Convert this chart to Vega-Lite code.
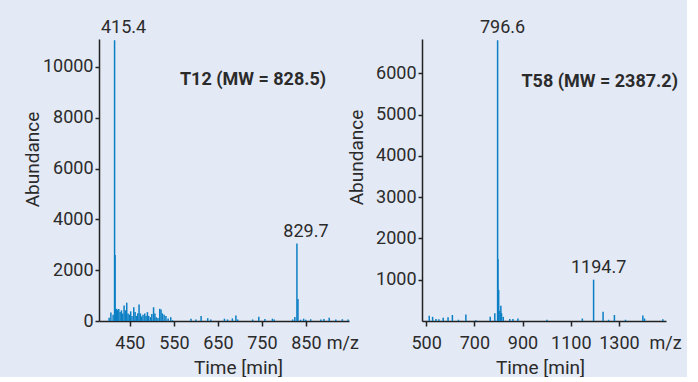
{
  "$schema": "https://vega.github.io/schema/vega-lite/v6.json",
  "background": "#e3e9f5",
  "padding": {"left": 23, "top": 19, "right": 5, "bottom": 0},
  "bounds": "flush",
  "spacing": 73,
  "config": {
    "font": "Roboto",
    "view": {"stroke": null},
    "axis": {
      "grid": false,
      "domainColor": "#222222",
      "domainWidth": 1.5,
      "tickColor": "#222222",
      "tickWidth": 1.5,
      "tickSize": 4,
      "labelColor": "#2b2b2b",
      "titleColor": "#2b2b2b",
      "labelFont": "Roboto",
      "titleFont": "Roboto",
      "labelFontSize": 18,
      "titleFontSize": 19,
      "titleFontWeight": "normal",
      "labelFlush": false,
      "format": "d"
    },
    "text": {"font": "Roboto", "color": "#2b2b2b"}
  },
  "datasets": {
    "left": [
      {"mz": 403, "ab": 130}, {"mz": 407, "ab": 330}, {"mz": 412, "ab": 250},
      {"mz": 415.4, "ab": 11050}, {"mz": 416.5, "ab": 2600}, {"mz": 418, "ab": 450},
      {"mz": 420, "ab": 480}, {"mz": 422, "ab": 430}, {"mz": 425, "ab": 470},
      {"mz": 428, "ab": 350}, {"mz": 431, "ab": 420}, {"mz": 434, "ab": 300},
      {"mz": 437, "ab": 610}, {"mz": 440, "ab": 420}, {"mz": 443, "ab": 720},
      {"mz": 446, "ab": 300}, {"mz": 449, "ab": 250}, {"mz": 452, "ab": 380},
      {"mz": 455, "ab": 200}, {"mz": 459, "ab": 540}, {"mz": 462, "ab": 350},
      {"mz": 465, "ab": 200}, {"mz": 468, "ab": 300}, {"mz": 471, "ab": 650},
      {"mz": 474, "ab": 300}, {"mz": 477, "ab": 180}, {"mz": 480, "ab": 250},
      {"mz": 484, "ab": 300}, {"mz": 487, "ab": 200}, {"mz": 490, "ab": 350},
      {"mz": 493, "ab": 200}, {"mz": 497, "ab": 150}, {"mz": 500, "ab": 280},
      {"mz": 504, "ab": 540}, {"mz": 507, "ab": 300}, {"mz": 510, "ab": 150},
      {"mz": 514, "ab": 120}, {"mz": 518, "ab": 480}, {"mz": 521, "ab": 450},
      {"mz": 524, "ab": 300}, {"mz": 528, "ab": 250}, {"mz": 532, "ab": 200},
      {"mz": 537, "ab": 100}, {"mz": 543, "ab": 150}, {"mz": 547, "ab": 30},
      {"mz": 589, "ab": 90}, {"mz": 600, "ab": 60}, {"mz": 612, "ab": 200},
      {"mz": 627, "ab": 110}, {"mz": 634, "ab": 60}, {"mz": 665, "ab": 90},
      {"mz": 672, "ab": 60}, {"mz": 683, "ab": 100}, {"mz": 691, "ab": 220},
      {"mz": 695, "ab": 60}, {"mz": 729, "ab": 60}, {"mz": 743, "ab": 170},
      {"mz": 757, "ab": 80}, {"mz": 774, "ab": 90}, {"mz": 778, "ab": 60},
      {"mz": 820, "ab": 60}, {"mz": 825, "ab": 160}, {"mz": 829.7, "ab": 3050},
      {"mz": 832, "ab": 870}, {"mz": 838, "ab": 50}, {"mz": 845, "ab": 90},
      {"mz": 850, "ab": 50}, {"mz": 861, "ab": 70}, {"mz": 884, "ab": 60},
      {"mz": 891, "ab": 80}, {"mz": 903, "ab": 130}, {"mz": 918, "ab": 60},
      {"mz": 933, "ab": 70}, {"mz": 946, "ab": 60}
    ],
    "leftLabels": [
      {"mz": 415.4, "ab": 11050, "label": "415.4"},
      {"mz": 829.7, "ab": 3050, "label": "829.7"}
    ],
    "right": [
      {"mz": 513, "ab": 130}, {"mz": 527, "ab": 100}, {"mz": 541, "ab": 50},
      {"mz": 553, "ab": 40}, {"mz": 571, "ab": 80}, {"mz": 591, "ab": 90},
      {"mz": 609, "ab": 145}, {"mz": 634, "ab": 30}, {"mz": 665, "ab": 160},
      {"mz": 706, "ab": 20}, {"mz": 766, "ab": 100}, {"mz": 785, "ab": 185},
      {"mz": 796.6, "ab": 6800}, {"mz": 798, "ab": 1500}, {"mz": 801, "ab": 750},
      {"mz": 806, "ab": 250}, {"mz": 810, "ab": 370}, {"mz": 813, "ab": 190},
      {"mz": 820, "ab": 100}, {"mz": 847, "ab": 50}, {"mz": 860, "ab": 50},
      {"mz": 881, "ab": 60}, {"mz": 1001, "ab": 30}, {"mz": 1148, "ab": 60},
      {"mz": 1194.7, "ab": 1000}, {"mz": 1234, "ab": 225}, {"mz": 1257, "ab": 30},
      {"mz": 1281, "ab": 145}, {"mz": 1327, "ab": 30}, {"mz": 1399, "ab": 135},
      {"mz": 1406, "ab": 60}, {"mz": 1482, "ab": 40}
    ],
    "rightLabels": [
      {"mz": 796.6, "ab": 6800, "label": "796.6"},
      {"mz": 1194.7, "ab": 1000, "label": "1194.7"}
    ]
  },
  "hconcat": [
    {
      "width": 250,
      "height": 282,
      "layer": [
        {
          "data": {"name": "left"},
          "mark": {"type": "rule", "color": "#0b7fc4", "strokeWidth": 1.5},
          "encoding": {
            "x": {
              "field": "mz", "type": "quantitative",
              "scale": {"domain": [380, 948], "nice": false, "zero": false},
              "axis": {
                "title": "Time [min]",
                "titleFontWeight": "normal",
                "titleX": 139,
                "titlePadding": 6,
                "tickSize": 5,
                "labelPadding": 8,
                "values": [450, 550, 650, 750, 850, 933],
                "labelExpr": "datum.value == 933 ? 'm/z' : datum.label",
                "tickOpacity": {"condition": {"test": "datum.value == 933", "value": 0}, "value": 1}
              }
            },
            "y": {
              "field": "ab", "type": "quantitative",
              "scale": {"domain": [0, 11100], "nice": false},
              "axis": {
                "title": "Abundance",
                "titleFontWeight": "normal",
                "titleY": 120,
                "titlePadding": 0,
                "values": [0, 2000, 4000, 6000, 8000, 10000],
                "labelPadding": 2
              }
            },
            "y2": {"datum": 0}
          }
        },
        {
          "data": {"name": "leftLabels"},
          "mark": {"type": "text", "baseline": "bottom", "dx": 9, "dy": -3, "fontSize": 18},
          "encoding": {
            "x": {"field": "mz", "type": "quantitative"},
            "y": {"field": "ab", "type": "quantitative"},
            "text": {"field": "label"}
          }
        },
        {
          "data": {"values": [{"mz": 730, "ab": 9500, "label": "T12 (MW = 828.5)"}]},
          "mark": {"type": "text", "baseline": "middle", "fontSize": 18, "fontWeight": "bold"},
          "encoding": {
            "x": {"field": "mz", "type": "quantitative"},
            "y": {"field": "ab", "type": "quantitative"},
            "text": {"field": "label"}
          }
        }
      ]
    },
    {
      "width": 244,
      "height": 282,
      "layer": [
        {
          "data": {"name": "right"},
          "mark": {"type": "rule", "color": "#0b7fc4", "strokeWidth": 1.5},
          "encoding": {
            "x": {
              "field": "mz", "type": "quantitative",
              "scale": {"domain": [483, 1495], "nice": false, "zero": false},
              "axis": {
                "title": "Time [min]",
                "titleFontWeight": "normal",
                "titleX": 118,
                "titlePadding": 6,
                "tickSize": 5,
                "labelPadding": 8,
                "values": [500, 700, 900, 1100, 1300, 1491],
                "labelExpr": "datum.value == 1491 ? 'm/z' : datum.label",
                "tickOpacity": {"condition": {"test": "datum.value == 1491", "value": 0}, "value": 1}
              }
            },
            "y": {
              "field": "ab", "type": "quantitative",
              "scale": {"domain": [0, 6830], "nice": false},
              "axis": {
                "title": "Abundance",
                "titleFontWeight": "normal",
                "titleY": 118,
                "titlePadding": 9,
                "values": [1000, 2000, 3000, 4000, 5000, 6000],
                "labelPadding": 2
              }
            },
            "y2": {"datum": 0}
          }
        },
        {
          "data": {"name": "rightLabels"},
          "mark": {"type": "text", "baseline": "bottom", "dx": 5, "dy": -3, "fontSize": 18},
          "encoding": {
            "x": {"field": "mz", "type": "quantitative"},
            "y": {"field": "ab", "type": "quantitative"},
            "text": {"field": "label"}
          }
        },
        {
          "data": {"values": [{"mz": 1220, "ab": 5800, "label": "T58 (MW = 2387.2)"}]},
          "mark": {"type": "text", "baseline": "middle", "fontSize": 18, "fontWeight": "bold"},
          "encoding": {
            "x": {"field": "mz", "type": "quantitative"},
            "y": {"field": "ab", "type": "quantitative"},
            "text": {"field": "label"}
          }
        }
      ]
    }
  ]
}
